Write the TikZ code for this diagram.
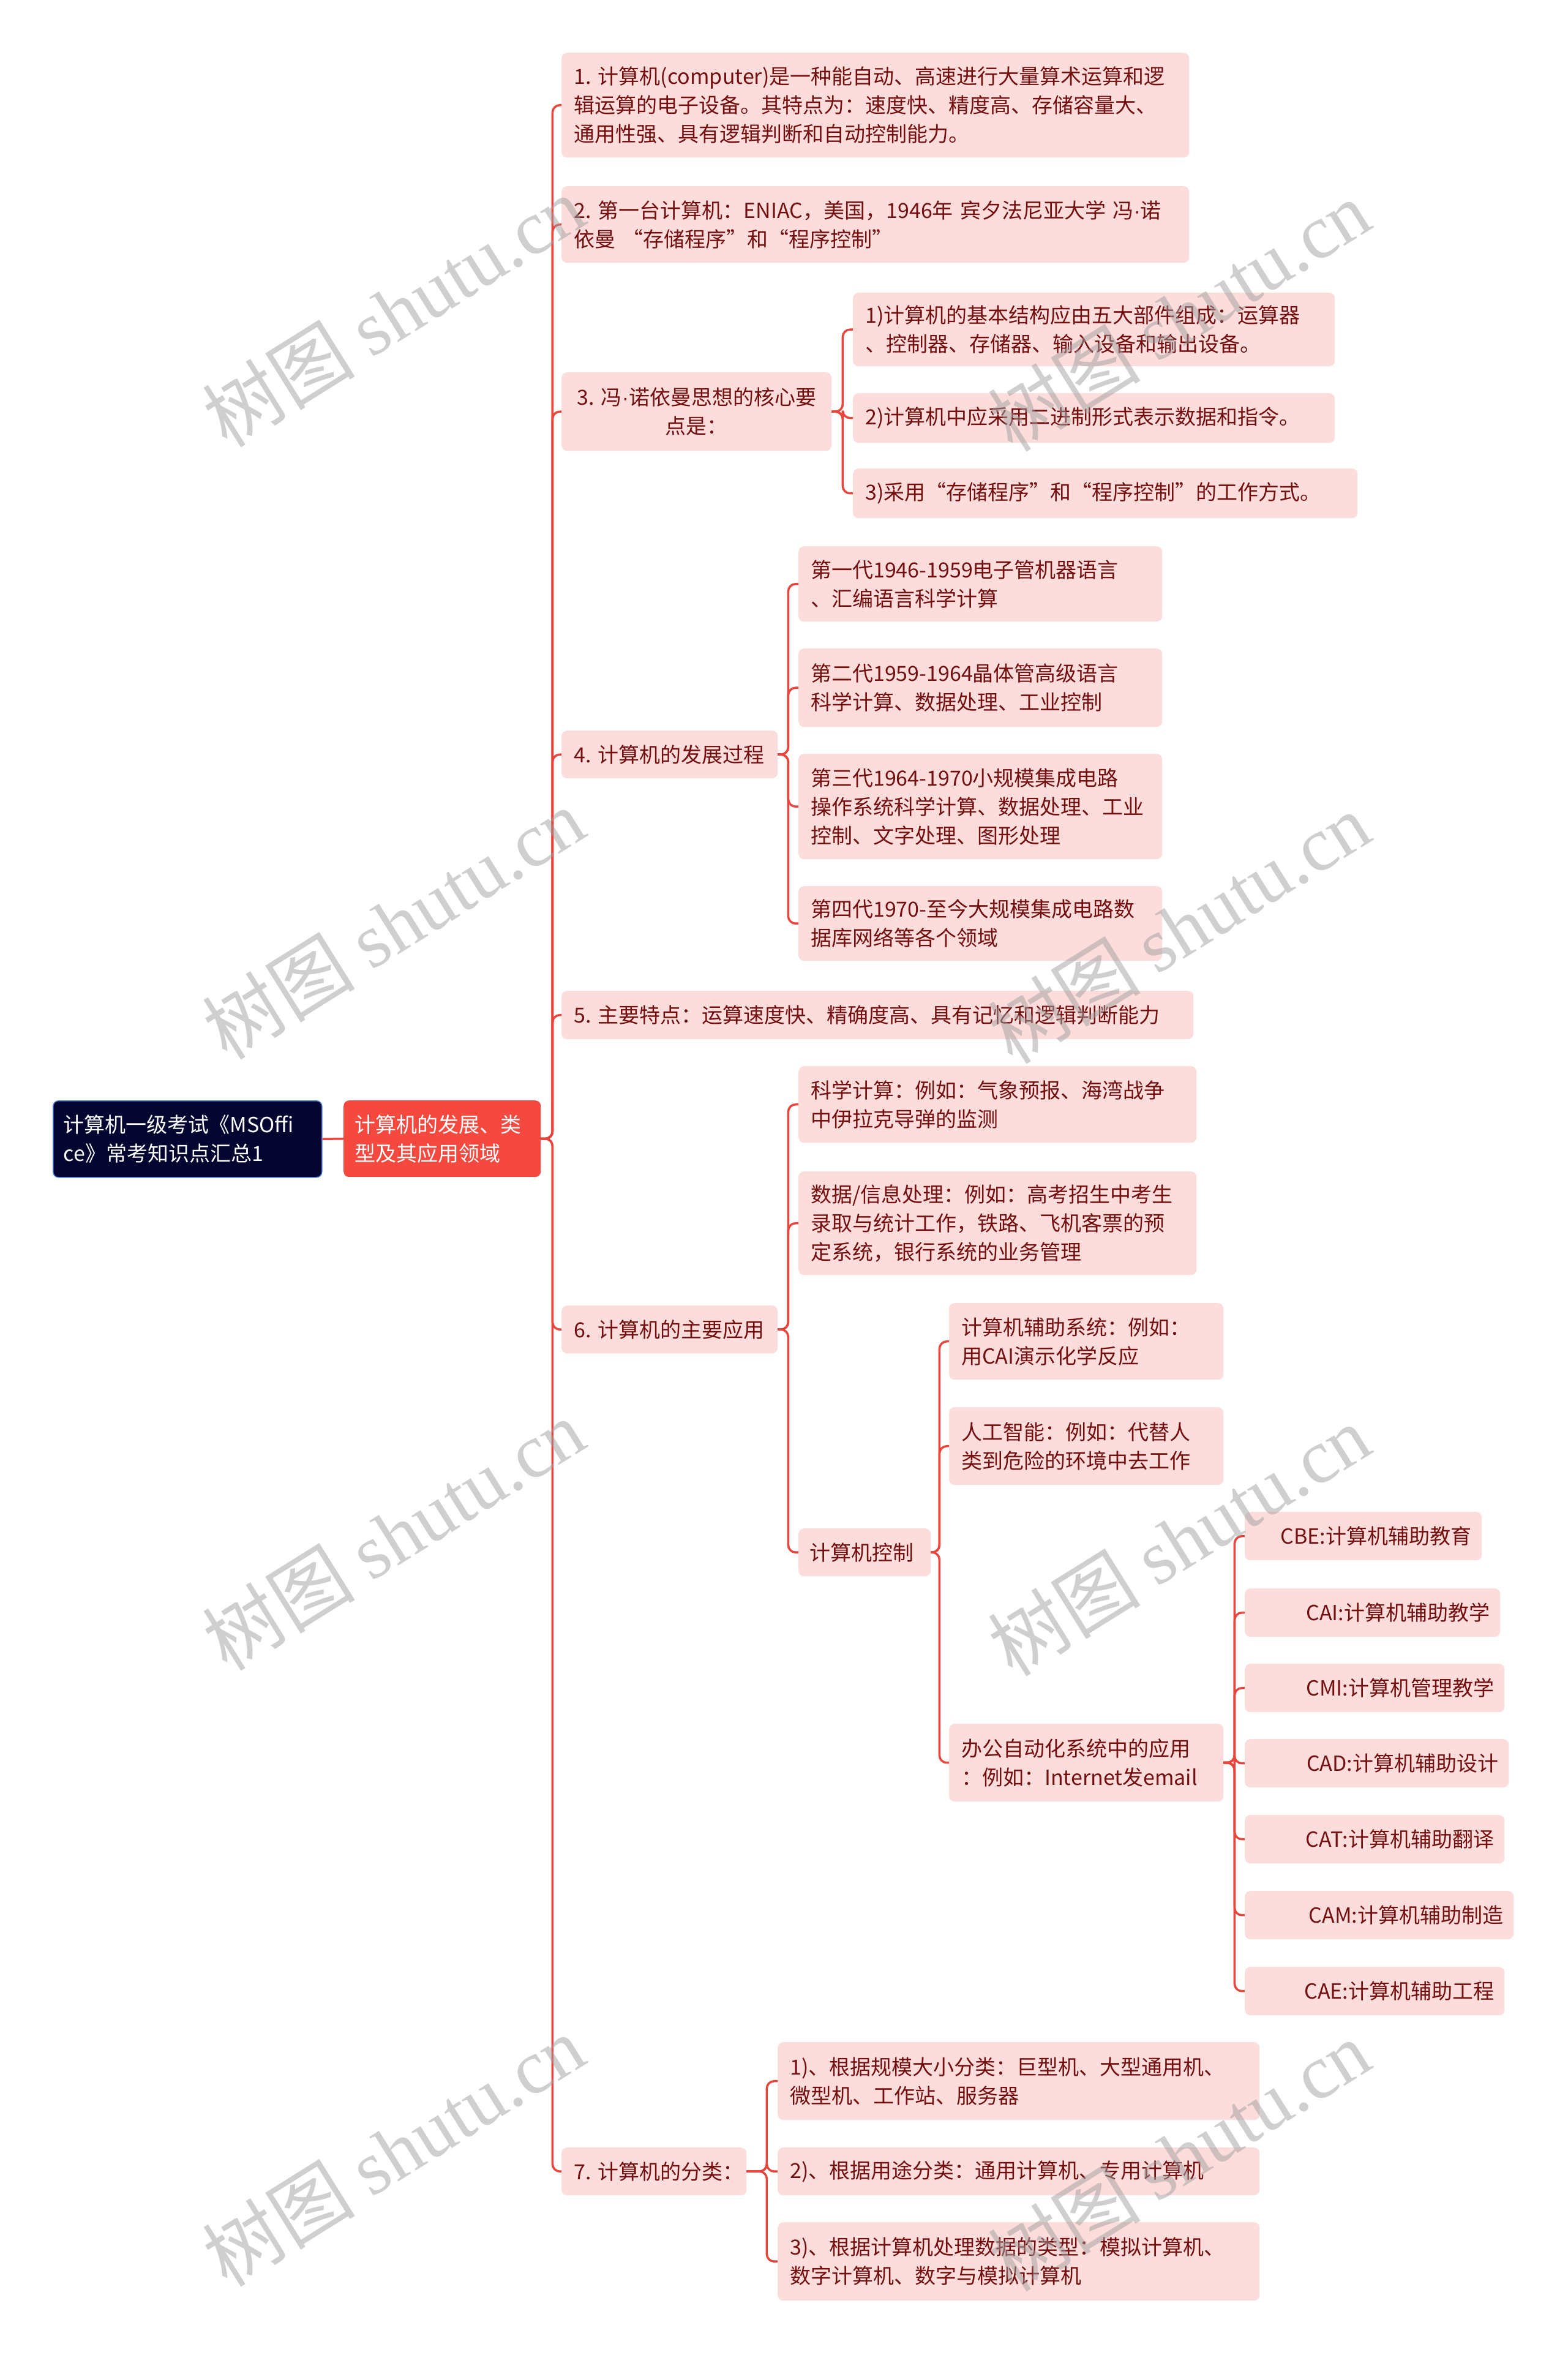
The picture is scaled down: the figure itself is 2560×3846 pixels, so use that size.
\documentclass[tikz,border=0pt]{standalone}
\usepackage{fontspec}
\setmainfont{Noto Sans CJK SC}
\newfontfamily\wmserif{Liberation Serif}
\newfontfamily\dotfont{Liberation Sans}
\newcommand{\mdot}{{\dotfont ·}}
\definecolor{linered}{RGB}{232,69,60}
\definecolor{pinkfill}{RGB}{253,220,220}
\definecolor{darkred}{RGB}{115,15,15}
\definecolor{navyfill}{RGB}{3,4,48}
\definecolor{mainred}{RGB}{245,72,62}
\definecolor{rootborder}{RGB}{70,120,210}
\definecolor{wmgray}{RGB}{160,160,160}
\newcommand{\fsz}{\fontsize{34pt}{47pt}\selectfont}
\begin{document}
\begin{tikzpicture}[x=1pt,y=-1pt,
  box/.style={rectangle, rounded corners=9pt, fill=pinkfill, text=darkred, inner xsep=20pt, inner ysep=0pt, anchor=north west, font=\fsz, align=left},
  leaf/.style={box, align=right, inner xsep=17pt},
  conn/.style={draw=linered, line width=3.5pt, rounded corners=12pt},
  wm/.style={text=wmgray, opacity=0.5, rotate=32, font=\fontsize{125pt}{125pt}\selectfont}]
\useasboundingbox (0,0) rectangle (2560,3846);
\fill[white] (0,0) rectangle (2560,3846);

% root and main
\node[box, fill=navyfill, text=white, draw=rootborder, line width=1.5pt, inner xsep=17pt, text width=405pt, minimum height=125pt] (root) at (86,1797) {计算机一级考试《MSOffi\\ce》常考知识点汇总1};
\node[box, fill=mainred, text=white, inner xsep=18pt, text width=286pt, minimum height=125pt] (main) at (561,1797) {计算机的发展、类\\型及其应用领域};

% level 1
\node[box, text width=985pt, minimum height=171pt] (n1) at (917,86) {1.~计算机(computer)是一种能自动、高速进行大量算术运算和逻\\辑运算的电子设备。其特点为：速度快、精度高、存储容量大、\\通用性强、具有逻辑判断和自动控制能力。};
\node[box, text width=985pt, minimum height=125pt] (n2) at (917,304) {2.~第一台计算机：ENIAC，美国，1946年~宾夕法尼亚大学~冯\mdot 诺\\依曼~“存储程序”和“程序控制”};
\node[box, align=center, inner xsep=12pt, text width=417pt, minimum height=128pt] (n3) at (917,608) {3.~冯\mdot 诺依曼思想的核心要\\点是：};
\node[box, text width=313pt, minimum height=78pt] (n4) at (917,1193) {4.~计算机的发展过程};
\node[box, text width=992pt, minimum height=79pt] (n5) at (917,1618) {5.~主要特点：运算速度快、精确度高、具有记忆和逻辑判断能力};
\node[box, text width=313pt, minimum height=78pt] (n6) at (917,2132) {6.~计算机的主要应用};
\node[box, text width=262pt, minimum height=78pt] (n7) at (917,3507) {7.~计算机的分类：};

% children of 3
\node[box, text width=747pt, minimum height=120pt] (n31) at (1393,478) {1)计算机的基本结构应由五大部件组成：运算器\\、控制器、存储器、输入设备和输出设备。};
\node[box, text width=747pt, minimum height=81pt] (n32) at (1393,642) {2)计算机中应采用二进制形式表示数据和指令。};
\node[box, text width=784pt, minimum height=81pt] (n33) at (1393,765) {3)采用“存储程序”和“程序控制”的工作方式。};

% children of 4
\node[box, text width=554pt, minimum height=123pt] (n41) at (1304,892) {第一代1946-1959电子管机器语言\\、汇编语言科学计算};
\node[box, text width=554pt, minimum height=128pt] (n42) at (1304,1059) {第二代1959-1964晶体管高级语言\\科学计算、数据处理、工业控制};
\node[box, text width=554pt, minimum height=172pt] (n43) at (1304,1231) {第三代1964-1970小规模集成电路\\操作系统科学计算、数据处理、工业\\控制、文字处理、图形处理};
\node[box, text width=554pt, minimum height=122pt] (n44) at (1304,1447) {第四代1970-至今大规模集成电路数\\据库网络等各个领域};

% children of 6
\node[box, text width=610pt, minimum height=125pt] (n61) at (1304,1741) {科学计算：例如：气象预报、海湾战争\\中伊拉克导弹的监测};
\node[box, text width=610pt, minimum height=169pt] (n62) at (1304,1913) {数据/信息处理：例如：高考招生中考生\\录取与统计工作，铁路、飞机客票的预\\定系统，银行系统的业务管理};
\node[box, inner xsep=18pt, text width=180pt, minimum height=78pt] (n63) at (1304,2496) {计算机控制};

% children of 计算机控制
\node[box, text width=408pt, minimum height=125pt] (c1) at (1550,2128) {计算机辅助系统：例如：\\用CAI演示化学反应};
\node[box, text width=408pt, minimum height=127pt] (c2) at (1550,2298) {人工智能：例如：代替人\\类到危险的环境中去工作};
\node[box, text width=408pt, minimum height=127pt] (c3) at (1550,2815) {办公自动化系统中的应用\\：例如：Internet发email};

% children of 办公自动化
\node[leaf, text width=353pt, minimum height=79pt] (l1) at (2033,2469) {CBE:计算机辅助教育};
\node[leaf, text width=383pt, minimum height=79pt] (l2) at (2033,2594) {CAI:计算机辅助教学};
\node[leaf, text width=390pt, minimum height=79pt] (l3) at (2033,2717) {CMI:计算机管理教学};
\node[leaf, text width=397pt, minimum height=79pt] (l4) at (2033,2840) {CAD:计算机辅助设计};
\node[leaf, text width=390pt, minimum height=79pt] (l5) at (2033,2964) {CAT:计算机辅助翻译};
\node[leaf, text width=405pt, minimum height=79pt] (l6) at (2033,3088) {CAM:计算机辅助制造};
\node[leaf, text width=390pt, minimum height=79pt] (l7) at (2033,3212) {CAE:计算机辅助工程};

% children of 7
\node[box, text width=747pt, minimum height=127pt] (n71) at (1270,3335) {1)、根据规模大小分类：巨型机、大型通用机、\\微型机、工作站、服务器};
\node[box, text width=747pt, minimum height=78pt] (n72) at (1270,3507) {2)、根据用途分类：通用计算机、专用计算机};
\node[box, text width=747pt, minimum height=128pt] (n73) at (1270,3629) {3)、根据计算机处理数据的类型：模拟计算机、\\数字计算机、数字与模拟计算机};

% bracket coordinates
\coordinate (bm) at ([xshift=19pt]main.east);
\coordinate (b3) at ([xshift=18pt]n3.east);
\coordinate (b4) at ([xshift=17pt]n4.east);
\coordinate (b6) at ([xshift=17pt]n6.east);
\coordinate (b63) at ([xshift=14pt]n63.east);
\coordinate (bc3) at ([xshift=18pt]c3.east);
\coordinate (b7) at ([xshift=33pt]n7.east);

% connectors
\draw[conn] (root.east) -- (main.west);
\foreach \c in {n1,n2,n3,n4,n5,n6,n7} {\draw[conn] (main.east) -- (bm) |- (\c.west);}
\foreach \c in {n31,n32,n33} {\draw[conn] (n3.east) -- (b3) |- (\c.west);}
\foreach \c in {n41,n42,n43,n44} {\draw[conn] (n4.east) -- (b4) |- (\c.west);}
\foreach \c in {n61,n62,n63} {\draw[conn] (n6.east) -- (b6) |- (\c.west);}
\foreach \c in {c1,c2,c3} {\draw[conn] (n63.east) -- (b63) |- (\c.west);}
\foreach \c in {l1,l2,l3,l4,l5,l6,l7} {\draw[conn] (c3.east) -- (bc3) |- (\c.west);}
\foreach \c in {n71,n72,n73} {\draw[conn] (n7.east) -- (b7) |- (\c.west);}

% watermarks
\node[wm] (w1) at (642,508) {树图 {\wmserif shutu.cn}};
\node[wm] (w2) at (1925,515) {树图 {\wmserif shutu.cn}};
\node[wm] (w3) at (642,1508) {树图 {\wmserif shutu.cn}};
\node[wm] (w4) at (1925,1515) {树图 {\wmserif shutu.cn}};
\node[wm] (w5) at (642,2506) {树图 {\wmserif shutu.cn}};
\node[wm] (w6) at (1925,2515) {树图 {\wmserif shutu.cn}};
\node[wm] (w7) at (642,3512) {树图 {\wmserif shutu.cn}};
\node[wm] (w8) at (1925,3520) {树图 {\wmserif shutu.cn}};
\end{tikzpicture}
\end{document}
